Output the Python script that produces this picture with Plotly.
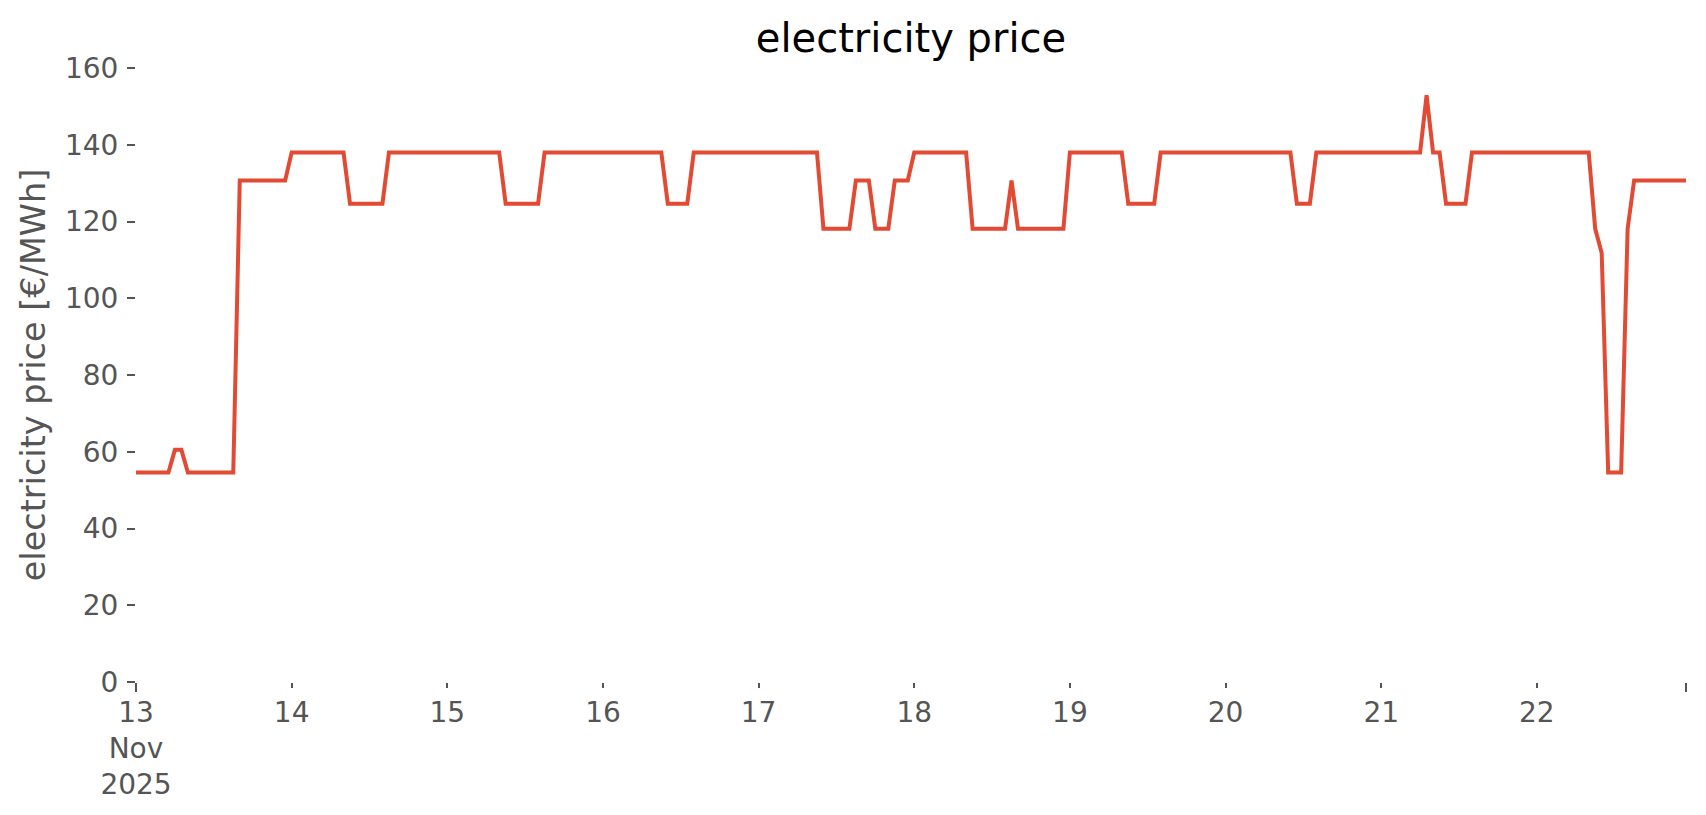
import pandas as pd
import plotly.graph_objects as go

# hourly electricity price [€/MWh], one list per day (13 .. 22 Nov 2025)
day_13 = [54.6]*6 + [60.5]*2 + [54.6]*8 + [130.7]*8
day_14 = [138.0]*9 + [124.6]*6 + [138.0]*9
day_15 = [138.0]*9 + [124.6]*6 + [138.0]*9
day_16 = [138.0]*10 + [124.6]*4 + [138.0]*10
day_17 = [138.0]*10 + [118.1]*5 + [130.7]*3 + [118.1]*3 + [130.7]*3
day_18 = [138.0]*9 + [118.1]*6 + [130.7] + [118.1]*8
day_19 = [138.0]*9 + [124.6]*5 + [138.0]*10
day_20 = [138.0]*11 + [124.6]*3 + [138.0]*10
day_21 = [138.0]*7 + [152.9] + [138.0]*2 + [124.6]*4 + [138.0]*10
day_22 = [138.0]*9 + [118.1, 111.8] + [54.6]*3 + [118.1] + [130.7]*9

prices = day_13 + day_14 + day_15 + day_16 + day_17 + day_18 + day_19 + day_20 + day_21 + day_22
times = pd.date_range("2025-11-13 00:00", periods=len(prices), freq="h")

tick_days = pd.date_range("2025-11-13", "2025-11-22", freq="D")
tick_labels = ["13<br>Nov<br>2025"] + [str(d.day) for d in tick_days[1:]]
y_ticks = [0, 20, 40, 60, 80, 100, 120, 140, 160]

FONT = "DejaVu Sans"
GREY = "#555555"

# page body has an 8px margin, so the figure is made 8px smaller
W, H = 1698, 807

fig = go.Figure()
fig.add_trace(go.Scatter(
    x=times, y=prices, mode="lines",
    line=dict(color="#E24A33", width=4),
    showlegend=False,
))
# helper trace for the overlay axis carrying the long end ticks
fig.add_trace(go.Scatter(
    x=[times[0], times[-1]], y=[prices[0], prices[-1]], mode="lines",
    line=dict(color="rgba(0,0,0,0)", width=0), xaxis="x2",
    showlegend=False, hoverinfo="skip",
))

xrange = [times[0], times[-1]]
fig.update_layout(
    width=W, height=H,
    margin=dict(l=128, r=20, t=60, b=133),
    paper_bgcolor="white", plot_bgcolor="white",
    font=dict(family=FONT, color=GREY, size=28),
    title=dict(text="electricity price", x=0.5, xref="paper", xanchor="center",
               y=1 - 30/H, yref="container", yanchor="middle",
               font=dict(family=FONT, size=40, color="black")),
    xaxis=dict(
        type="date", range=xrange,
        tickmode="array",
        tickvals=list(tick_days) + [times[-1]],
        ticktext=tick_labels + [""],
        ticks="outside", ticklen=5, tickwidth=1.5, tickcolor=GREY,
        showgrid=False, zeroline=False, showline=False,
        tickfont=dict(family=FONT, size=28, color=GREY),
    ),
    xaxis2=dict(
        type="date", range=xrange, overlaying="x", anchor="y", side="bottom",
        tickmode="array", tickvals=[times[0], times[-1]], ticktext=["", ""],
        ticks="outside", ticklen=9, tickwidth=1.5, tickcolor=GREY,
        showgrid=False, zeroline=False, showline=False,
    ),
    yaxis=dict(
        range=[0, 160], tickmode="array", tickvals=y_ticks,
        ticks="outside", ticklen=8, tickwidth=1.5, tickcolor=GREY,
        ticklabelstandoff=3,
        showgrid=False, zeroline=False, showline=False,
        tickfont=dict(family=FONT, size=28, color=GREY),
        title=dict(text="electricity price [€/MWh]", standoff=9,
                   font=dict(family=FONT, size=33.5, color=GREY)),
    ),
)

fig.write_html("out.html")
